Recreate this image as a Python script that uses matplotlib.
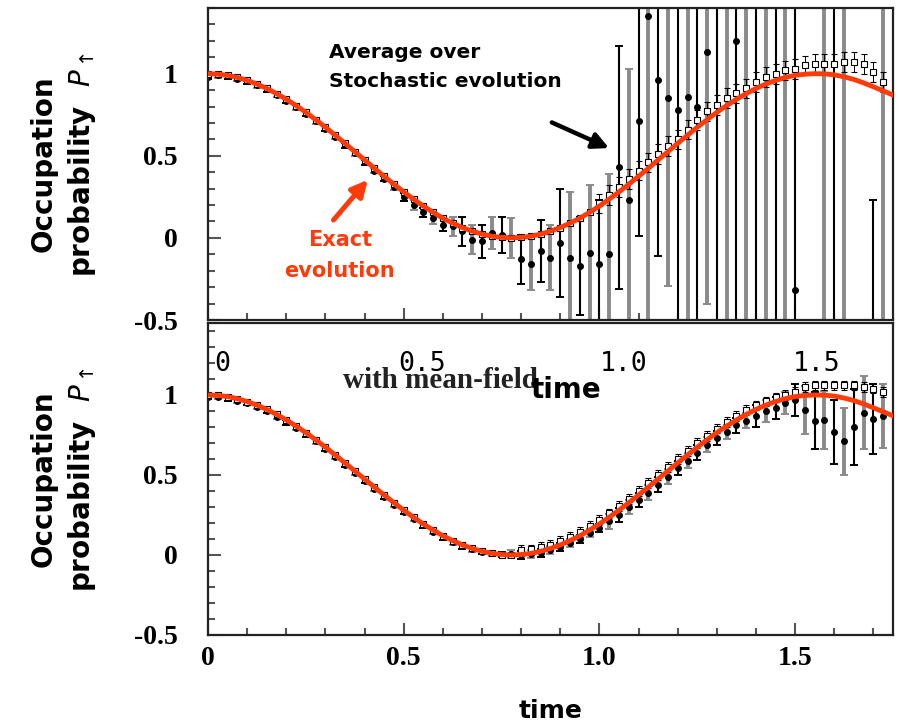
import numpy as np
import matplotlib
matplotlib.use("Agg")
import matplotlib.pyplot as plt
from matplotlib.ticker import MultipleLocator

# exact evolution (red curve)
t_exact = [0.0, 0.025, 0.05, 0.075, 0.1, 0.125, 0.15, 0.175, 0.2, 0.225,
           0.25, 0.275, 0.3, 0.325, 0.35, 0.375, 0.4, 0.425, 0.45, 0.475,
           0.5, 0.525, 0.55, 0.575, 0.6, 0.625, 0.65, 0.675, 0.7, 0.725,
           0.75, 0.775, 0.8, 0.825, 0.85, 0.875, 0.9, 0.925, 0.95, 0.975,
           1.0, 1.025, 1.05, 1.075, 1.1, 1.125, 1.15, 1.175, 1.2, 1.225,
           1.25, 1.275, 1.3, 1.325, 1.35, 1.375, 1.4, 1.425, 1.45, 1.475,
           1.5, 1.525, 1.55, 1.575, 1.6, 1.625, 1.65, 1.675, 1.7, 1.725, 1.75]
p_exact = [1.0, 0.997, 0.99, 0.977, 0.959, 0.937, 0.91, 0.879, 0.844, 0.806,
           0.765, 0.72, 0.674, 0.625, 0.576, 0.525, 0.475, 0.424, 0.375, 0.327,
           0.28, 0.236, 0.194, 0.156, 0.12, 0.09, 0.063, 0.041, 0.023, 0.01,
           0.003, 0.0, 0.003, 0.01, 0.023, 0.041, 0.063, 0.09, 0.12, 0.156,
           0.194, 0.236, 0.28, 0.327, 0.375, 0.424, 0.475, 0.525, 0.576, 0.625,
           0.674, 0.72, 0.765, 0.806, 0.844, 0.879, 0.91, 0.937, 0.959, 0.977,
           0.99, 0.997, 1.0, 0.999, 0.993, 0.981, 0.965, 0.944, 0.92, 0.895, 0.87]

# sampling times of the stochastic runs
t_st = t_exact[:-1]

# top panel: average over stochastic evolution (dots + error bars)
top_mean = [0.98, 0.99, 0.985, 0.97, 0.955, 0.93, 0.905, 0.87, 0.835, 0.795,
            0.755, 0.71, 0.665, 0.615, 0.565, 0.515, 0.46, 0.41, 0.36, 0.31,
            0.25, 0.2, 0.155, 0.12, 0.08, 0.07, 0.04, -0.01, -0.02, 0.03,
            0.02, 0.0, -0.13, -0.16, -0.08, -0.12, -0.03, -0.12, -0.17, -0.09,
            -0.16, -0.1, 0.43, 0.23, 0.71, 1.35, 0.96, 0.85, 0.78, 0.86,
            0.8, 1.13, 1.6, -0.8, 1.2, 1.7, -0.9, 1.8, -0.7, 1.65,
            -0.32, -1.5, 2.0, -0.85, 1.6, -0.75, 2.0, -1.5, -1.0, 1.7]
top_err = [0.015] * 19 + [
            0.02, 0.025, 0.03, 0.03, 0.035, 0.04, 0.06, 0.09, 0.09, 0.1,
            0.1, 0.11, 0.12, 0.15, 0.16, 0.19, 0.2, 0.33, 0.4, 0.3,
            0.41, 0.39, 0.49, 0.74, 0.8, 0.7, 2.5, 1.07, 1.14, 2.5,
            2.5, 2.5, 1.53, 2.5, 2.5, 2.5, 2.5, 2.5, 2.5, 2.5,
            2.5, 2.5, 0.3, 0.3, 2.5, 2.5, 2.5, 0.3, 0.3, 1.23, 2.5]
top_sq = p_exact[:40] + [
            0.21, 0.26, 0.31, 0.36, 0.41, 0.46, 0.51, 0.56, 0.6, 0.66,
            0.72, 0.77, 0.81, 0.85, 0.88, 0.91, 0.95, 0.98, 1.0, 1.02,
            1.03, 1.05, 1.06, 1.06, 1.06, 1.07, 1.07, 1.06, 1.01, 0.95]
top_sq_err = [0.01] * 40 + [0.06] * 30

# bottom panel: with mean-field
bot_mean = [0.99, 0.99, 0.98, 0.965, 0.95, 0.925, 0.9, 0.865, 0.83, 0.795,
            0.755, 0.71, 0.665, 0.615, 0.565, 0.515, 0.465, 0.415, 0.365, 0.315,
            0.27, 0.225, 0.185, 0.145, 0.11, 0.08, 0.055, 0.035, 0.02, 0.01,
            0.005, 0.005, 0.0, 0.005, 0.015, 0.03, 0.05, 0.075, 0.1, 0.135,
            0.17, 0.21, 0.25, 0.3, 0.345, 0.39, 0.44, 0.49, 0.545, 0.59,
            0.64, 0.69, 0.73, 0.77, 0.81, 0.84, 0.87, 0.9, 0.92, 0.95,
            0.97, 0.905, 0.84, 0.845, 0.77, 0.71, 0.8, 0.89, 0.85, 0.87]
bot_err = [0.015] * 31 + [0.025] * 10 + [0.045] * 15 + [
            0.07, 0.07, 0.07, 0.07, 0.1, 0.15, 0.18, 0.18, 0.2, 0.21,
            0.24, 0.23, 0.22, 0.2]
bot_sq = p_exact[:32] + [
            0.03, 0.035, 0.05, 0.065, 0.09, 0.115, 0.145, 0.18, 0.22, 0.26,
            0.305, 0.35, 0.4, 0.45, 0.5, 0.55, 0.6, 0.65, 0.7, 0.745,
            0.79, 0.83, 0.87, 0.905, 0.935, 0.96, 0.985, 1.0, 1.02, 1.05,
            1.06, 1.06, 1.06, 1.06, 1.06, 1.05, 1.04, 1.02]
bot_sq_err = [0.01] * 32 + [0.03] * 38

x_ticks = [0, 0.5, 1.0, 1.5]
x_ticklabels = ['0', '0.5', '1.0', '1.5']
y_ticks = [-0.5, 0, 0.5, 1]
y_ticklabels = ['-0.5', '0', '0.5', '1']

RED = '#ff3b0a'
W, H = 899, 726
TICK_SIZE = 20


def fx(px):
    return px / W


def fy(py):
    return 1 - py / H


def draw_panel(ax, mean, err, sq, sq_err, ylim):
    t = np.array(t_st)
    mean = np.array(mean)
    err = np.array(err)
    # open squares with thin bars
    ax.errorbar(t, sq, yerr=sq_err, fmt='s', ms=5, mfc='white', mec='black',
                mew=0.8, ecolor='black', elinewidth=0.7, capsize=2, zorder=3)
    # dots, bars alternating black / gray
    for k, (c, lw) in enumerate([('black', 1.5), ('#8a8a8a', 2.8)]):
        sel = slice(k, None, 2)
        ax.errorbar(t[sel], mean[sel], yerr=err[sel], fmt='o', ms=4,
                    color='black', ecolor=c, elinewidth=lw, capsize=3,
                    capthick=1.4, zorder=2)
    ax.plot(t_exact, p_exact, color=RED, lw=3.5, zorder=5)
    ax.set_xlim(0, 1.75)
    ax.set_ylim(*ylim)
    ax.set_xticks(x_ticks)
    ax.set_yticks(y_ticks)
    ax.set_yticklabels(y_ticklabels)
    ax.yaxis.set_minor_locator(MultipleLocator(0.1))
    ax.xaxis.set_minor_locator(MultipleLocator(0.1))
    ax.tick_params(which='both', direction='in', color='#555555', width=1.5,
                   labelsize=TICK_SIZE, labelfontfamily='Liberation Serif')
    ax.tick_params(which='major', length=9)
    ax.tick_params(which='minor', length=5)
    ax.tick_params(axis='y', pad=22)
    for s in ax.spines.values():
        s.set_linewidth(1.6)
        s.set_color('#222222')
    ax.set_ylabel('Occupation\nprobability  $P_{\\uparrow}$', fontsize=20,
                  fontweight='bold', family='DejaVu Sans', linespacing=1.35)
    ax.yaxis.set_label_coords(-0.16, 0.5)


fig = plt.figure(figsize=(W / 100, H / 100), dpi=100)
ax1 = fig.add_axes([fx(208), fy(320), fx(685), 312 / H])
ax2 = fig.add_axes([fx(208), fy(635), fx(685), 312 / H])

draw_panel(ax1, top_mean, top_err, top_sq, top_sq_err, (-0.5, 1.4))
draw_panel(ax2, bot_mean, bot_err, bot_sq, bot_sq_err, (-0.5, 1.45))

ax1.tick_params(axis='x', labelbottom=False)
ax2.tick_params(axis='x', pad=8)
ax2.set_xticklabels(x_ticklabels)
ax2.set_xlabel('time', fontsize=18, fontweight='bold', labelpad=20)

# annotations in the top panel
ax1.text(0.31, 1.13, 'Average over', fontsize=14.5, fontweight='bold',
         va='center', zorder=6)
ax1.text(0.31, 0.95, 'Stochastic evolution', fontsize=14.5, fontweight='bold',
         va='center', zorder=6)
ax1.annotate('', xy=(1.031, 0.54), xytext=(0.872, 0.71),
             arrowprops=dict(arrowstyle='-|>', color='black', lw=3.2,
                             mutation_scale=24), zorder=6)
ax1.text(0.337, -0.01, 'Exact', color=RED, fontsize=15, fontweight='bold',
         ha='center', va='center', zorder=6)
ax1.text(0.337, -0.2, 'evolution', color=RED, fontsize=15, fontweight='bold',
         ha='center', va='center', zorder=6)
ax1.annotate('', xy=(0.413, 0.367), xytext=(0.316, 0.096),
             arrowprops=dict(arrowstyle='-|>', color=RED, lw=3.6,
                             mutation_scale=24), zorder=6)

# stray labels pasted over the lower panel
fig.text(fx(440), fy(381), 'with mean-field', family='Liberation Serif',
         fontweight='bold', fontsize=21, color='#222222', ha='center',
         va='center', zorder=10)
for lbl, px in zip(x_ticklabels, [222, 422, 624, 817]):
    fig.text(fx(px), fy(364), lbl, family='DejaVu Sans Mono', fontsize=19,
             ha='center', va='center', zorder=10)
fig.text(fx(566), fy(390), 'time', fontsize=20, fontweight='bold',
         ha='center', va='center', zorder=11)

# make tick labels bold serif once all ticks exist
fig.canvas.draw()
for ax in (ax1, ax2):
    for lab in ax.get_xticklabels() + ax.get_yticklabels():
        lab.set_fontweight('bold')
        lab.set_fontsize(TICK_SIZE)
        lab.set_fontfamily('Liberation Serif')

fig.savefig('out.png', dpi=100, facecolor='white')
